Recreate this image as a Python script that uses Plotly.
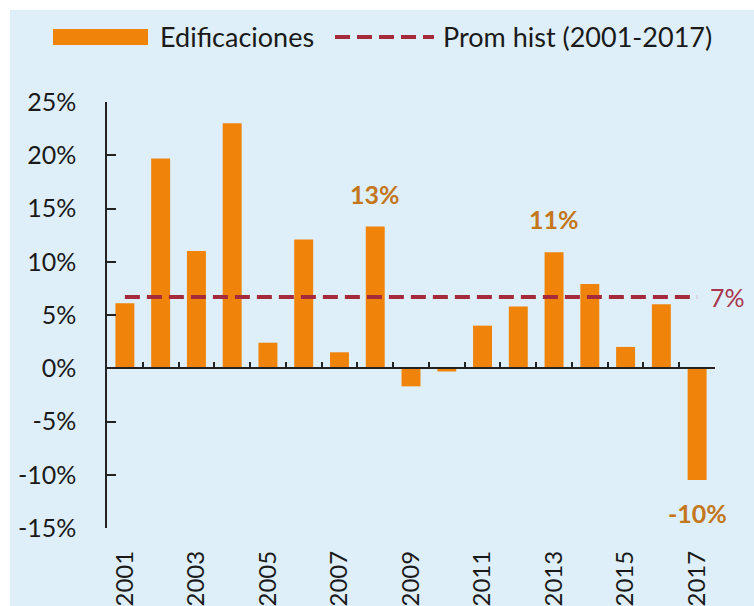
import plotly.graph_objects as go

# ---- data ----
years = [2001, 2002, 2003, 2004, 2005, 2006, 2007, 2008, 2009,
         2010, 2011, 2012, 2013, 2014, 2015, 2016, 2017]
edificaciones = [6.1, 19.7, 11.0, 23.0, 2.4, 12.1, 1.5, 13.3, -1.7,
                 -0.3, 4.0, 5.8, 10.9, 7.9, 2.0, 6.0, -10.5]
prom_hist = 6.7
highlight_years = [2008, 2013, 2017]
year_ticks = [str(y) for y in years[::2]]
y_ticks = [-15, -10, -5, 0, 5, 10, 15, 20, 25]
series_names = ["Edificaciones", "Prom hist (2001-2017)"]

# ---- style ----
W, H = 754, 606
ML, MR, MT, MB = 107, 39, 102, 78
PW, PH = W - ML - MR, H - MT - MB
FONT = "Lato, 'Open Sans', sans-serif"
BAR_C = "#F0830A"
LINE_C = "#A52A3C"
LBL_C = "#C4761C"
AVG_LBL_C = "#A8344D"
BG = "#DEEFF9"
TXT = "#1a1a1a"


def px(x):
    return (x - ML) / PW


def py(y):
    return (H - MB - y) / PH


fig = go.Figure()
fig.add_trace(go.Bar(x=years, y=edificaciones, name=series_names[0],
                     marker=dict(color=BAR_C, line=dict(width=0)),
                     width=0.53, showlegend=False))
fig.add_trace(go.Scatter(x=[years[0], years[-1]], y=[prom_hist, prom_hist],
                         mode="lines", name=series_names[1],
                         line=dict(color=LINE_C, width=4, dash="15px,7px"),
                         showlegend=False))
# invisible helper trace so the zero axis is drawn
fig.add_trace(go.Scatter(x=[years[0]], y=[0], xaxis="x2", mode="markers",
                         marker=dict(opacity=0), hoverinfo="skip",
                         showlegend=False))

annotations = []
for yr in highlight_years:
    v = edificaciones[years.index(yr)]
    annotations.append(dict(x=yr, y=v, xref="x", yref="y",
                            text=f"<b>{round(v):.0f}%</b>", showarrow=False,
                            yshift=33 if v > 0 else -33,
                            font=dict(family=FONT, size=25, color=LBL_C)))
annotations.append(dict(x=years[-1], y=prom_hist, xref="x", yref="y",
                        text=f"{round(prom_hist):.0f}%", showarrow=False,
                        xanchor="left", xshift=11,
                        font=dict(family=FONT, size=25, color=AVG_LBL_C)))
# legend (drawn manually)
annotations.append(dict(x=px(158), y=py(37), xref="paper", yref="paper",
                        text=series_names[0], showarrow=False,
                        xanchor="left", yanchor="middle",
                        font=dict(family=FONT, size=27, color=TXT)))
annotations.append(dict(x=px(441), y=py(37), xref="paper", yref="paper",
                        text=series_names[1], showarrow=False,
                        xanchor="left", yanchor="middle",
                        font=dict(family=FONT, size=27, color=TXT)))

shapes = [
    dict(type="rect", xref="paper", yref="paper", x0=px(10), x1=px(W + 5),
         y0=py(H + 5), y1=py(10), fillcolor=BG, line=dict(width=0),
         layer="below"),
    dict(type="rect", xref="paper", yref="paper", x0=px(53), x1=px(148),
         y0=py(45), y1=py(29), fillcolor=BAR_C, line=dict(width=0)),
    dict(type="line", xref="paper", yref="paper", x0=px(335), x1=px(434),
         y0=py(37), y1=py(37),
         line=dict(color=LINE_C, width=4, dash="15px,7px")),
]

fig.update_layout(
    width=W, height=H,
    margin=dict(l=ML, r=MR, t=MT, b=MB, autoexpand=False),
    paper_bgcolor="white", plot_bgcolor="rgba(0,0,0,0)",
    font=dict(family=FONT, size=24, color=TXT),
    bargap=0.47,
    xaxis=dict(range=[years[0] - 0.5, years[-1] + 0.5],
               tickvals=years[::2], ticktext=year_ticks, tickangle=-90,
               ticks="", showline=False, showgrid=False, zeroline=False,
               ticklabelstandoff=17, automargin=False,
               tickfont=dict(family=FONT, size=24, color=TXT)),
    xaxis2=dict(range=[years[0] - 0.5, years[-1] + 0.5], overlaying="x",
                anchor="free", position=(0 - y_ticks[0]) / (y_ticks[-1] - y_ticks[0]),
                tickvals=[y + 0.5 for y in [years[0] - 1] + years],
                ticks="inside", ticklen=6, tickcolor="#222", tickwidth=1.5,
                showline=True, linecolor="#222", linewidth=1.5,
                showticklabels=False, showgrid=False, zeroline=False,
                automargin=False),
    yaxis=dict(range=[y_ticks[0], y_ticks[-1]], tickvals=y_ticks,
               ticktext=[f"{v}%" for v in y_ticks],
               ticks="inside", ticklen=9, tickcolor="#222", tickwidth=1.5,
               showline=True, linecolor="#222", linewidth=1.5,
               showgrid=False, zeroline=False, ticklabelstandoff=24,
               automargin=False,
               tickfont=dict(family=FONT, size=25, color=TXT)),
    annotations=annotations,
    shapes=shapes,
)

fig.write_html("out.html",
               config={"displayModeBar": False},
               post_script="document.body.style.margin='0';"
                           "document.body.style.overflow='hidden';")
